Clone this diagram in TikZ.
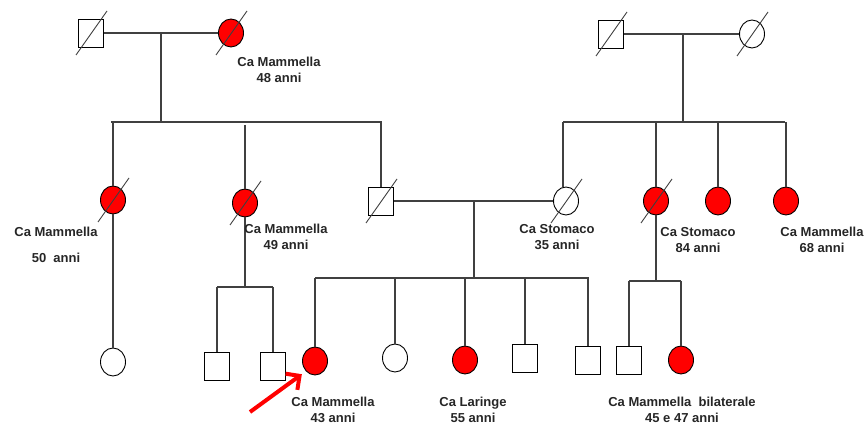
\documentclass[tikz,border=0pt]{standalone}
\usepackage{fontspec}
\setmainfont{Liberation Sans}
\usetikzlibrary{shapes.geometric,calc,arrows.meta}
\definecolor{ln}{HTML}{404040}
\definecolor{aff}{HTML}{FF0000}
\tikzset{
  male/.style={draw=black,line width=0.9pt,minimum width=25pt,minimum height=28pt,inner sep=0pt,fill=white},
  female/.style={ellipse,draw=black,line width=0.9pt,minimum width=25pt,minimum height=28pt,inner sep=0pt,fill=white},
  affected/.style={fill=aff},
  link/.style={draw=ln,line width=1.1pt},
  slash/.style={draw=ln,line width=0.9pt},
  lbl/.style={font=\fontsize{13}{16}\selectfont\bfseries,align=center,text=black!85,inner sep=0pt}
}
\newcommand{\dead}[1]{\draw[slash] ($(#1)+(-15,22)$) -- ($(#1)+(16,-22)$);}
\begin{document}
\begin{tikzpicture}[x=1pt,y=-1pt]
\useasboundingbox (0,0) rectangle (867,427);
% generation I
\node[male] (gp1) at (91,33) {};
\node[female,affected] (gm1) at (231,33) {};
\node[male] (gp2) at (611,34) {};
\node[female] (gm2) at (752,34) {};
% generation II
\node[female,affected] (a1) at (113,200) {};
\node[female,affected] (a2) at (245,203) {};
\node[male] (f) at (381,201) {};
\node[female] (m) at (566,201) {};
\node[female,affected] (b2) at (656,201) {};
\node[female,affected] (b3) at (718,201) {};
\node[female,affected] (b4) at (786,201) {};
% generation III
\node[female] (c1) at (113,362) {};
\node[male] (c2) at (217,366) {};
\node[male] (c3) at (273,366) {};
\node[female,affected] (p) at (315,361) {};
\node[female] (s2) at (395,358) {};
\node[female,affected] (s3) at (465,360) {};
\node[male] (s4) at (525,358) {};
\node[male] (s5) at (588,360) {};
\node[male] (d1) at (629,360) {};
\node[female,affected] (d2) at (681,360) {};
% coordinates
\coordinate (u1) at (161,33);
\coordinate (l1) at (161,122);
\coordinate (sl1) at (111,122);
\coordinate (sr1) at (382,122);
\coordinate (u2) at (683,34);
\coordinate (l2) at (683,122);
\coordinate (sl2) at (563,122);
\coordinate (sr2) at (785,122);
\coordinate (u3) at (474,201);
\coordinate (l3) at (474,278);
\coordinate (sl3) at (315,278);
\coordinate (sr3) at (589,278);
\coordinate (l4) at (245,287);
\coordinate (sl4) at (217,287);
\coordinate (sr4) at (273,287);
\coordinate (l5) at (656,281);
\coordinate (sl5) at (629,281);
\coordinate (sr5) at (681,281);
\coordinate (a2top) at (245,125);
% connectors
\draw[link] (gp1.east) -- (gm1.west);
\draw[link] (u1) -- (l1);
\draw[link] (sl1) -- (sr1);
\draw[link] (a1.north |- sl1) -- (a1.north);
\draw[link] (a2top) -- (a2.north);
\draw[link] (f.north |- sr1) -- (f.north);
\draw[link] (gp2.east) -- (gm2.west);
\draw[link] (u2) -- (l2);
\draw[link] (sl2) -- (sr2);
\draw[link] (sl2) -- (sl2 |- m.north);
\draw[link] (b2.north |- sl2) -- (b2.north);
\draw[link] (b3.north |- sl2) -- (b3.north);
\draw[link] (b4.north |- sl2) -- (b4.north);
\draw[link] (f.east) -- (m.west);
\draw[link] (u3) -- (l3);
\draw[link] (sl3) -- (sr3);
\foreach \n in {p,s2,s3,s4,s5} {\draw[link] (\n.north |- sl3) -- (\n.north);}
\draw[link] (a1.south) -- (c1.north);
\draw[link] (a2.south) -- (l4);
\draw[link] (sl4) -- (sr4);
\draw[link] (sl4) -- (c2.north);
\draw[link] (sr4) -- (c3.north);
\draw[link] (b2.south) -- (l5);
\draw[link] (sl5) -- (sr5);
\draw[link] (sl5) -- (d1.north);
\draw[link] (sr5) -- (d2.north);
% deceased
\dead{gp1}\dead{gm1}\dead{gp2}\dead{gm2}
\dead{a1}\dead{a2}\dead{f}\dead{m}\dead{b2}
% labels
\node[lbl] (t1) at (279,70) {Ca Mammella\\48 anni};
\node[lbl] (t2) at (56,245) {Ca Mammella\\[10pt]50~~anni};
\node[lbl] (t3) at (286,237) {Ca Mammella\\49 anni};
\node[lbl] (t4) at (557,237) {Ca Stomaco\\35 anni};
\node[lbl] (t5) at (698,240) {Ca Stomaco\\84 anni};
\node[lbl] (t6) at (822,240) {Ca Mammella\\68 anni};
\node[lbl] (t7) at (333,410) {Ca Mammella\\43 anni};
\node[lbl] (t8) at (473,410) {Ca Laringe\\55 anni};
\node[lbl] (t9) at (682,410) {Ca Mammella~~bilaterale\\45 e 47 anni};
% proband arrow
\coordinate (ar) at (250,412);
\draw[aff,line width=4pt,-{Straight Barb[length=10pt,width=20pt]}] (ar) -- ($(p.south west)+(-4,3)$);
\end{tikzpicture}
\end{document}
